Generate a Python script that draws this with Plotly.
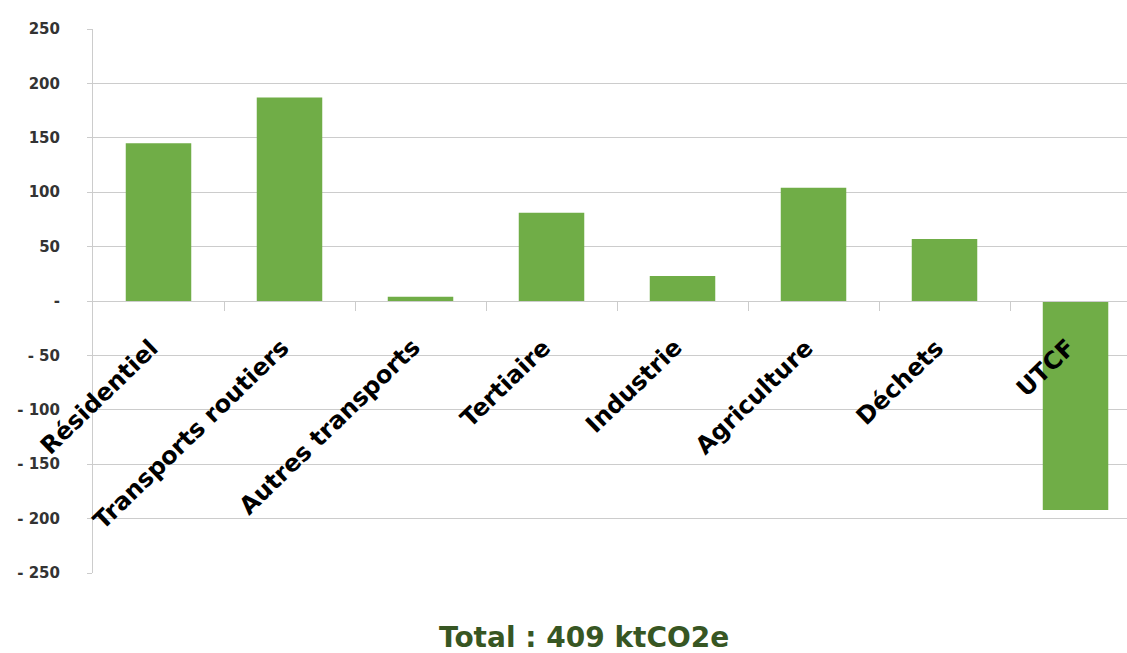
import plotly.graph_objects as go

# Emissions by sector (ktCO2e)
sectors = ["Résidentiel", "Transports routiers", "Autres transports", "Tertiaire",
           "Industrie", "Agriculture", "Déchets", "UTCF"]
emissions = [145, 187, 4, 81, 23, 104, 57, -192]

y_ticks = [250, 200, 150, 100, 50, 0, -50, -100, -150, -200, -250]
y_tick_text = ["250", "200", "150", "100", "50", "-", "- 50", "- 100", "- 150", "- 200", "- 250"]

total_label = "Total : 409 ktCO2e"

BAR = "#70AD47"
GRID = "#CCCCCC"
FONT = "DejaVu Sans"

idx = list(range(len(sectors)))

fig = go.Figure()
fig.add_trace(go.Bar(x=idx, y=emissions, width=0.5, marker=dict(color=BAR, line=dict(width=0)),
                     hoverinfo="skip"))

# category labels, rotated and hung under the zero line
annotations = []
for i, name in enumerate(sectors):
    annotations.append(dict(
        x=i, y=0, xref="x", yref="y", text="<b>" + name + "</b>", showarrow=False,
        textangle=-44, xanchor="right", yanchor="top", xshift=8, yshift=-30,
        font=dict(family=FONT, size=24, color="#000000"),
    ))
annotations.append(dict(
    x=0.475, y=-0.085, xref="paper", yref="paper", text="<b>" + total_label + "</b>",
    showarrow=False, xanchor="center", yanchor="top",
    font=dict(family=FONT, size=28, color="#375623"),
))

fig.update_layout(
    width=1127, height=653,
    margin=dict(l=93, r=0, t=29, b=80),
    plot_bgcolor="white", paper_bgcolor="white",
    showlegend=False,
    annotations=annotations,
    xaxis=dict(
        range=[-0.5, 7.393], showgrid=False, zeroline=False,
        anchor="free", position=0.5,
        showline=True, linecolor=GRID, linewidth=1,
        tickvals=[i + 0.5 for i in idx[:-1]], ticks="outside", ticklen=9,
        tickcolor=GRID, showticklabels=False,
    ),
    yaxis=dict(
        range=[-250, 250], tickvals=y_ticks, ticktext=y_tick_text,
        showgrid=True, gridcolor=GRID, gridwidth=1,
        zeroline=True, zerolinecolor=GRID, zerolinewidth=1,
        showline=True, linecolor=GRID, linewidth=1,
        ticks="outside", ticklen=5, tickcolor=GRID,
        ticklabelstandoff=24,
        tickfont=dict(family=FONT, size=15, color="#333333", weight="bold"),
    ),
)

fig.write_html("out.html")
